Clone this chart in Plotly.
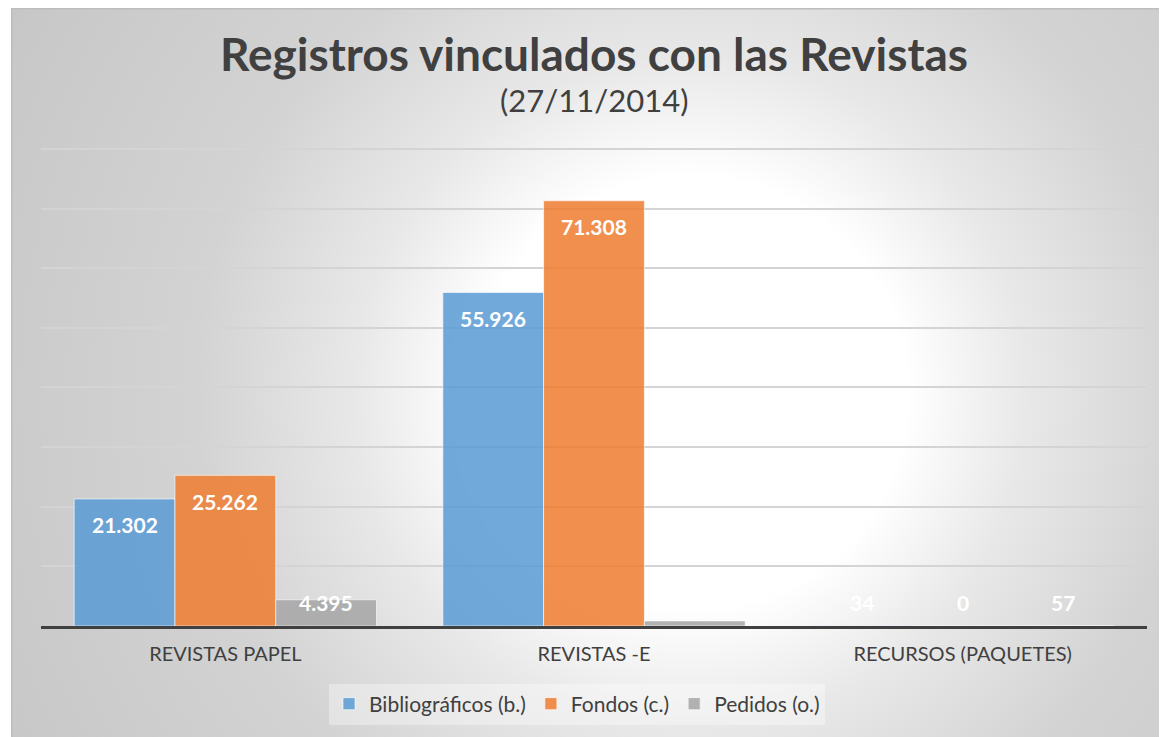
import base64
import plotly.graph_objects as go

# ---- data ----
categories = ["REVISTAS PAPEL", "REVISTAS -E", "RECURSOS (PAQUETES)"]
series_names = ["Bibliográficos (b.)", "Fondos (c.)", "Pedidos (o.)"]
bibliograficos = [21302, 55926, 34]
fondos = [25262, 71308, 0]
pedidos = [4395, 850, 57]

title_text = "Registros vinculados con las Revistas"
subtitle_text = "(27/11/2014)"

# ---- style ----
OFF = 8                      # page body margin
W, H = 1167 - OFF, 737 - OFF
YMAX = 81000
L, R, B = 41 - OFF, 20, 111
PH = round(477 * YMAX / 80000)
T = H - B - PH
BARGAP = 0.18
colors = ["rgba(91,155,213,0.86)", "rgba(237,125,49,0.86)", "rgba(165,165,165,0.86)"]
FONT = "Lato"
TXT = "#404040"

# background radial gradient as an svg image
bx0, by0 = 11 - OFF, 8 - OFF
bw, bh = W - bx0, H - by0
svg = f'''<svg xmlns="http://www.w3.org/2000/svg" width="{bw}" height="{bh}">
<defs><radialGradient id="g" gradientUnits="userSpaceOnUse" cx="680" cy="385" r="800">
<stop offset="0" stop-color="#ffffff"/><stop offset="0.27" stop-color="#ffffff"/>
<stop offset="0.42" stop-color="#e8e8e8"/><stop offset="0.62" stop-color="#d3d3d3"/>
<stop offset="1" stop-color="#c6c6c6"/></radialGradient></defs>
<rect x="0" y="0" width="{bw}" height="{bh}" fill="url(#g)"/>
<line x1="0.5" y1="0" x2="0.5" y2="{bh}" stroke="#bdbdbd" stroke-width="2"/>
<line x1="0" y1="0.5" x2="{bw}" y2="0.5" stroke="#bdbdbd" stroke-width="2"/>
</svg>'''
src = "data:image/svg+xml;base64," + base64.b64encode(svg.encode()).decode()

pw, ph = W - L - R, H - T - B


def px_x(p):
    return (p - L) / pw


def px_y(p):
    return (H - B - p) / ph


bar_px = pw / len(categories) * (1 - BARGAP) / len(series_names)

fig = go.Figure()
annotations = []
all_series = [bibliograficos, fondos, pedidos]
for i, (name, vals, col) in enumerate(zip(series_names, all_series, colors)):
    fig.add_trace(go.Bar(
        x=categories, y=vals, name=name,
        marker=dict(color=col, line=dict(color="rgba(255,255,255,0.6)", width=1)),
    ))
    for c, v in zip(categories, vals):
        big = v > 10000
        annotations.append(dict(
            x=c, y=v if big else 0, xref="x", yref="y",
            text=f"{v:,}".replace(",", "."), showarrow=False,
            xshift=(i - (len(series_names) - 1) / 2) * bar_px,
            yshift=-26 if big else 24, yanchor="middle",
            font=dict(family=FONT, size=21, color="white", weight="bold"),
        ))

annotations.append(dict(text=subtitle_text, xref="paper", yref="paper", x=px_x(594 - OFF),
                        y=px_y(100 - OFF), xanchor="center", yanchor="middle",
                        showarrow=False, font=dict(family=FONT, size=31, color=TXT)))

fig.update_layout(
    width=W, height=H,
    margin=dict(l=L, r=R, t=T, b=B),
    paper_bgcolor="white", plot_bgcolor="rgba(0,0,0,0)",
    barmode="group", bargap=BARGAP, bargroupgap=0,
    showlegend=True,
    legend=dict(orientation="h", xanchor="center", x=px_x(577 - OFF), yref="container",
                y=1 - (704 - OFF) / H, yanchor="middle", bgcolor="rgba(255,255,255,0.35)",
                font=dict(family=FONT, size=21, color=TXT), traceorder="normal"),
    title=dict(text=f"<b>{title_text}</b>", x=px_x(594 - OFF), xanchor="center", xref="paper",
               y=1 - (55 - OFF) / H, yanchor="middle", yref="container",
               font=dict(family=FONT, size=46, color=TXT)),
    annotations=annotations,
    images=[dict(source=src, xref="paper", yref="paper", x=px_x(bx0), y=px_y(by0),
                 sizex=bw / pw, sizey=bh / ph, sizing="stretch", xanchor="left",
                 yanchor="top", layer="below")],
    xaxis=dict(showline=True, linecolor="#404040", linewidth=3, ticks="",
               tickfont=dict(family=FONT, size=20, color=TXT), showgrid=False,
               ticklabelstandoff=8),
    yaxis=dict(range=[0, YMAX], tickvals=[10000 * k for k in range(1, 9)],
               showticklabels=False, showgrid=True,
               gridcolor="#d4d4d4", gridwidth=1.5, zeroline=False, showline=False),
)

fig.write_html("out.html")
